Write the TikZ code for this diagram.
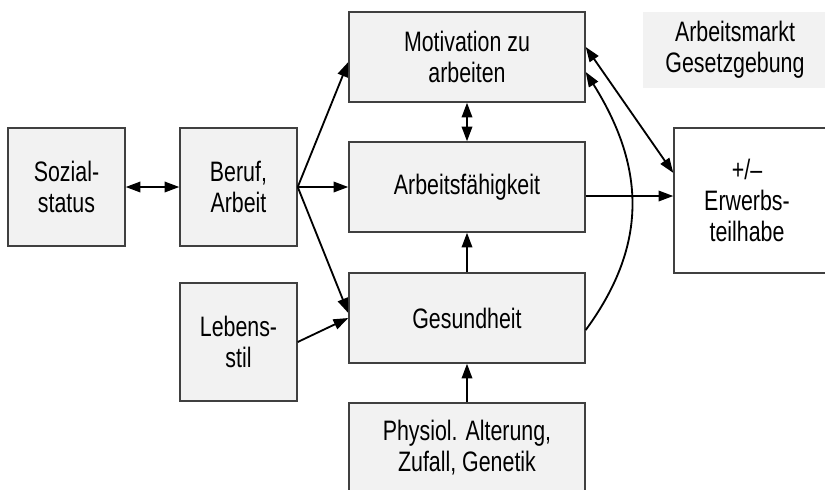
\documentclass[tikz,border=0pt]{standalone}
\usepackage{fontspec}
\setmainfont{Liberation Sans}[FakeStretch=0.76]
\usetikzlibrary{arrows.meta}
\definecolor{boxgray}{RGB}{242,242,242}
\definecolor{boxline}{RGB}{64,64,64}

\begin{document}
\begin{tikzpicture}[x=0.025cm, y=-0.025cm,
    box/.style={draw=boxline, fill=boxgray, line width=1pt, align=center,
                font=\fontsize{20}{22}\selectfont, inner sep=0pt},
    smallbox/.style={box, minimum width=2.925cm, minimum height=2.95cm},
    widebox/.style={box, minimum width=5.9cm, minimum height=2.25cm},
    boxtext/.style={align=center, font=\fontsize{20}{22}\selectfont, inner sep=0pt},
    arr/.style={-{Triangle[length=10.5pt,width=7.5pt]}, line width=1.3pt},
    darr/.style={{Triangle[length=10.5pt,width=7.5pt]}-{Triangle[length=10.5pt,width=7.5pt]}, line width=1.3pt}]
  \clip (0,0) rectangle (825,489);

  % left column
  \node[smallbox] (sozial) at (66.5,187) {Sozial-\\status};
  \node[smallbox] (beruf) at (238.5,187) {Beruf,\\Arbeit};
  \node[smallbox] (lebens) at (238.5,342) {Lebens-\\stil};

  % middle column
  \node[widebox] (motiv) at (467,57) {Motivation zu\\arbeiten};
  \node[widebox] (arbeit) at (467,187) {Arbeitsf\"ahigkeit};
  \node[widebox] (gesund) at (467,318) {Gesundheit};
  \node[widebox] (physiol) at (467,448) {Physiol. Alterung,\\Zufall, Genetik};

  % right side
  \node[fill=boxgray, minimum width=5cm, minimum height=1.9cm, inner sep=0pt] (markt) at (743,50) {};
  \node[boxtext] (markttext) at (735,50) {Arbeitsmarkt\\Gesetzgebung};
  \node[draw=boxline, line width=1pt, fill=white, minimum width=4.5cm,
        minimum height=3.625cm, inner sep=0pt] (erwerb) at (764,200.5) {};
  \node[boxtext] (erwerbtext) at (747,200.5) {+/--\\Erwerbs-\\teilhabe};

  % arrows
  \draw[darr] (sozial) -- (beruf);
  \draw[arr] (beruf.east) -- ([yshift=-0.125cm]motiv.west);
  \draw[arr] (beruf.east) -- (arbeit.west);
  \draw[arr] (beruf.east) -- ([yshift=0.125cm]gesund.west);
  \draw[arr] (lebens.east) -- (gesund.west);
  \draw[darr] (motiv) -- (arbeit);
  \draw[arr] (gesund) -- (arbeit);
  \draw[arr] (physiol) -- (gesund);
  \draw[arr] ([yshift=-0.225cm]arbeit.east) -- ([yshift=-0.225cm]arbeit.east -| erwerb.west);
  \draw[darr] ([yshift=0.25cm]motiv.east) -- ([yshift=0.69cm]erwerb.west);
  \draw[arr] ([yshift=-0.3cm]gesund.east) .. controls +(60,-82) and +(62,99) .. ([yshift=-0.375cm]motiv.east);
\end{tikzpicture}
\end{document}
